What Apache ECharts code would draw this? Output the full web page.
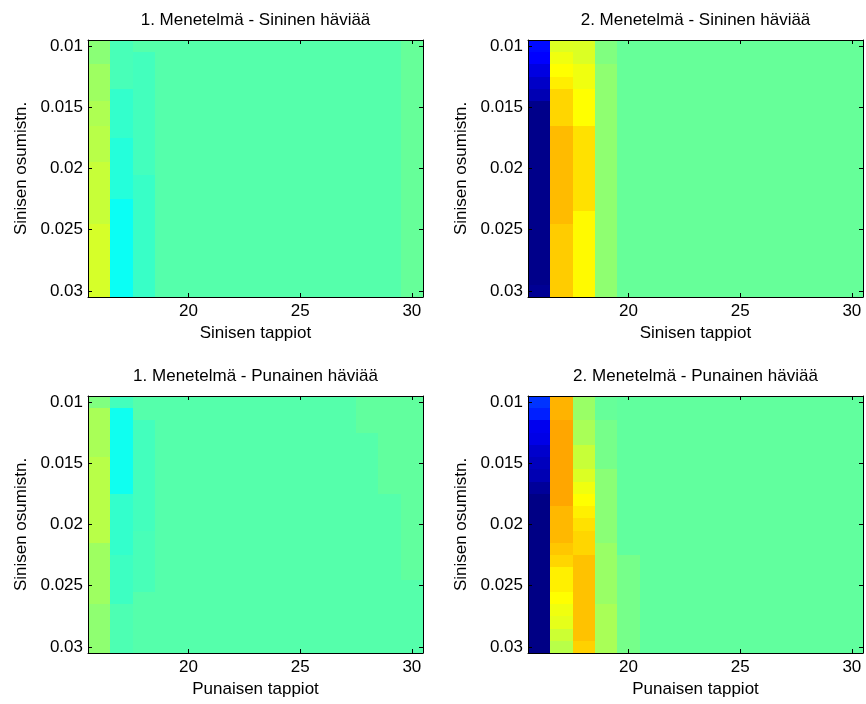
<!DOCTYPE html>
<html>
<head>
<meta charset="utf-8">
<script src="https://cdn.jsdelivr.net/npm/echarts@6/dist/echarts.min.js"></script>
<style>
  html, body { margin: 0; padding: 0; background: #fff; }
  #main { width: 866px; height: 704px; }
</style>
</head>
<body>
<div id="main"></div>
<script>
// tappiot (x) ja osumistodennäköisyys (y)
const tappiot = [16, 17, 18, 19, 20, 21, 22, 23, 24, 25, 26, 27, 28, 29, 30];
const osumis = [0.010, 0.011, 0.012, 0.013, 0.014, 0.015, 0.016, 0.017, 0.018, 0.019, 0.020,
                0.021, 0.022, 0.023, 0.024, 0.025, 0.026, 0.027, 0.028, 0.029, 0.030];
const xTicks = [20, 25, 30];
const yTicks = [0.01, 0.015, 0.02, 0.025, 0.03];

const otsikot = ['1. Menetelmä - Sininen häviää', '2. Menetelmä - Sininen häviää',
                 '1. Menetelmä - Punainen häviää', '2. Menetelmä - Punainen häviää'];
const xNimet = ['Sinisen tappiot', 'Sinisen tappiot', 'Punaisen tappiot', 'Punaisen tappiot'];
const yNimi = 'Sinisen osumistn.';

// arvot väriskaalalla 0..100 (jet), rivi = osumis, sarake = tappiot
const m1SininenHavia = [
  [51.0, 44.5, 45.8, 45.8, 45.8, 45.8, 45.8, 45.8, 45.8, 45.8, 45.8, 45.8, 45.8, 45.8, 47.5],
  [51.0, 44.5, 44.0, 45.8, 45.8, 45.8, 45.8, 45.8, 45.8, 45.8, 45.8, 45.8, 45.8, 45.8, 47.5],
  [53.0, 44.5, 44.0, 45.8, 45.8, 45.8, 45.8, 45.8, 45.8, 45.8, 45.8, 45.8, 45.8, 45.8, 47.5],
  [53.0, 44.5, 44.0, 45.8, 45.8, 45.8, 45.8, 45.8, 45.8, 45.8, 45.8, 45.8, 45.8, 45.8, 47.5],
  [53.0, 42.5, 44.0, 45.8, 45.8, 45.8, 45.8, 45.8, 45.8, 45.8, 45.8, 45.8, 45.8, 45.8, 47.5],
  [54.5, 42.5, 44.0, 45.8, 45.8, 45.8, 45.8, 45.8, 45.8, 45.8, 45.8, 45.8, 45.8, 45.8, 47.5],
  [54.5, 42.5, 44.0, 45.8, 45.8, 45.8, 45.8, 45.8, 45.8, 45.8, 45.8, 45.8, 45.8, 45.8, 47.5],
  [55.5, 42.5, 44.0, 45.8, 45.8, 45.8, 45.8, 45.8, 45.8, 45.8, 45.8, 45.8, 45.8, 45.8, 47.5],
  [55.5, 41.0, 44.0, 45.8, 45.8, 45.8, 45.8, 45.8, 45.8, 45.8, 45.8, 45.8, 45.8, 45.8, 47.5],
  [55.5, 41.0, 44.0, 45.8, 45.8, 45.8, 45.8, 45.8, 45.8, 45.8, 45.8, 45.8, 45.8, 45.8, 47.5],
  [57.0, 41.0, 44.0, 45.8, 45.8, 45.8, 45.8, 45.8, 45.8, 45.8, 45.8, 45.8, 45.8, 45.8, 47.5],
  [57.0, 41.0, 43.0, 45.8, 45.8, 45.8, 45.8, 45.8, 45.8, 45.8, 45.8, 45.8, 45.8, 45.8, 47.5],
  [57.0, 41.0, 43.0, 45.8, 45.8, 45.8, 45.8, 45.8, 45.8, 45.8, 45.8, 45.8, 45.8, 45.8, 47.5],
  [57.0, 38.5, 43.0, 45.8, 45.8, 45.8, 45.8, 45.8, 45.8, 45.8, 45.8, 45.8, 45.8, 45.8, 47.5],
  [57.0, 38.5, 43.0, 45.8, 45.8, 45.8, 45.8, 45.8, 45.8, 45.8, 45.8, 45.8, 45.8, 45.8, 47.5],
  [58.5, 38.5, 43.0, 45.8, 45.8, 45.8, 45.8, 45.8, 45.8, 45.8, 45.8, 45.8, 45.8, 45.8, 47.5],
  [58.5, 38.5, 43.0, 45.8, 45.8, 45.8, 45.8, 45.8, 45.8, 45.8, 45.8, 45.8, 45.8, 45.8, 47.5],
  [58.5, 38.5, 43.0, 45.8, 45.8, 45.8, 45.8, 45.8, 45.8, 45.8, 45.8, 45.8, 45.8, 45.8, 47.5],
  [58.5, 38.5, 43.0, 45.8, 45.8, 45.8, 45.8, 45.8, 45.8, 45.8, 45.8, 45.8, 45.8, 45.8, 47.5],
  [58.5, 38.5, 43.0, 45.8, 45.8, 45.8, 45.8, 45.8, 45.8, 45.8, 45.8, 45.8, 45.8, 45.8, 47.5],
  [58.5, 38.5, 43.0, 45.8, 45.8, 45.8, 45.8, 45.8, 45.8, 45.8, 45.8, 45.8, 45.8, 45.8, 47.5]
];

const m2SininenHavia = [
  [13.5, 59.2, 59.0, 50.0, 47.5, 47.5, 47.5, 47.5, 47.5, 47.5, 47.5, 47.5, 47.5, 47.5, 47.5],
  [12.5, 61.0, 59.0, 50.0, 47.5, 47.5, 47.5, 47.5, 47.5, 47.5, 47.5, 47.5, 47.5, 47.5, 47.5],
  [9.5, 62.5, 61.0, 51.5, 47.5, 47.5, 47.5, 47.5, 47.5, 47.5, 47.5, 47.5, 47.5, 47.5, 47.5],
  [7.0, 64.2, 61.0, 51.5, 47.5, 47.5, 47.5, 47.5, 47.5, 47.5, 47.5, 47.5, 47.5, 47.5, 47.5],
  [5.0, 66.5, 62.5, 51.5, 47.5, 47.5, 47.5, 47.5, 47.5, 47.5, 47.5, 47.5, 47.5, 47.5, 47.5],
  [1.0, 66.5, 62.5, 51.5, 47.5, 47.5, 47.5, 47.5, 47.5, 47.5, 47.5, 47.5, 47.5, 47.5, 47.5],
  [1.0, 66.5, 62.5, 51.5, 47.5, 47.5, 47.5, 47.5, 47.5, 47.5, 47.5, 47.5, 47.5, 47.5, 47.5],
  [1.0, 69.2, 65.5, 51.5, 47.5, 47.5, 47.5, 47.5, 47.5, 47.5, 47.5, 47.5, 47.5, 47.5, 47.5],
  [1.0, 69.2, 65.5, 51.5, 47.5, 47.5, 47.5, 47.5, 47.5, 47.5, 47.5, 47.5, 47.5, 47.5, 47.5],
  [1.0, 69.2, 65.5, 51.5, 47.5, 47.5, 47.5, 47.5, 47.5, 47.5, 47.5, 47.5, 47.5, 47.5, 47.5],
  [1.0, 69.2, 65.5, 51.5, 47.5, 47.5, 47.5, 47.5, 47.5, 47.5, 47.5, 47.5, 47.5, 47.5, 47.5],
  [1.0, 69.2, 65.5, 51.5, 47.5, 47.5, 47.5, 47.5, 47.5, 47.5, 47.5, 47.5, 47.5, 47.5, 47.5],
  [1.0, 69.2, 65.5, 51.5, 47.5, 47.5, 47.5, 47.5, 47.5, 47.5, 47.5, 47.5, 47.5, 47.5, 47.5],
  [1.0, 69.2, 65.5, 51.5, 47.5, 47.5, 47.5, 47.5, 47.5, 47.5, 47.5, 47.5, 47.5, 47.5, 47.5],
  [1.0, 69.2, 63.0, 51.5, 47.5, 47.5, 47.5, 47.5, 47.5, 47.5, 47.5, 47.5, 47.5, 47.5, 47.5],
  [1.0, 67.5, 63.0, 51.5, 47.5, 47.5, 47.5, 47.5, 47.5, 47.5, 47.5, 47.5, 47.5, 47.5, 47.5],
  [1.0, 67.5, 63.0, 51.5, 47.5, 47.5, 47.5, 47.5, 47.5, 47.5, 47.5, 47.5, 47.5, 47.5, 47.5],
  [1.0, 67.5, 63.0, 51.5, 47.5, 47.5, 47.5, 47.5, 47.5, 47.5, 47.5, 47.5, 47.5, 47.5, 47.5],
  [1.0, 67.5, 63.0, 51.5, 47.5, 47.5, 47.5, 47.5, 47.5, 47.5, 47.5, 47.5, 47.5, 47.5, 47.5],
  [1.0, 67.5, 63.0, 51.5, 47.5, 47.5, 47.5, 47.5, 47.5, 47.5, 47.5, 47.5, 47.5, 47.5, 47.5],
  [2.0, 67.5, 63.0, 51.5, 47.5, 47.5, 47.5, 47.5, 47.5, 47.5, 47.5, 47.5, 47.5, 47.5, 47.5]
];

const m1PunainenHavia = [
  [50.0, 44.0, 45.8, 45.8, 45.8, 45.8, 45.8, 45.8, 45.8, 45.8, 45.8, 45.8, 47.0, 47.0, 47.0],
  [54.0, 39.0, 45.8, 45.8, 45.8, 45.8, 45.8, 45.8, 45.8, 45.8, 45.8, 45.8, 47.0, 47.0, 47.0],
  [54.0, 39.0, 44.0, 45.8, 45.8, 45.8, 45.8, 45.8, 45.8, 45.8, 45.8, 45.8, 47.0, 47.0, 47.0],
  [54.0, 39.0, 44.0, 45.8, 45.8, 45.8, 45.8, 45.8, 45.8, 45.8, 45.8, 45.8, 45.8, 47.0, 47.0],
  [54.0, 39.0, 44.0, 45.8, 45.8, 45.8, 45.8, 45.8, 45.8, 45.8, 45.8, 45.8, 45.8, 47.0, 47.0],
  [55.5, 39.0, 44.0, 45.8, 45.8, 45.8, 45.8, 45.8, 45.8, 45.8, 45.8, 45.8, 45.8, 47.0, 47.0],
  [55.5, 39.0, 44.0, 45.8, 45.8, 45.8, 45.8, 45.8, 45.8, 45.8, 45.8, 45.8, 45.8, 47.0, 47.0],
  [55.5, 39.0, 44.0, 45.8, 45.8, 45.8, 45.8, 45.8, 45.8, 45.8, 45.8, 45.8, 45.8, 47.0, 47.0],
  [55.5, 42.5, 44.0, 45.8, 45.8, 45.8, 45.8, 45.8, 45.8, 45.8, 45.8, 45.8, 45.8, 45.8, 47.0],
  [55.5, 42.5, 44.0, 45.8, 45.8, 45.8, 45.8, 45.8, 45.8, 45.8, 45.8, 45.8, 45.8, 45.8, 47.0],
  [55.5, 42.5, 44.0, 45.8, 45.8, 45.8, 45.8, 45.8, 45.8, 45.8, 45.8, 45.8, 45.8, 45.8, 47.0],
  [55.5, 42.5, 44.5, 45.8, 45.8, 45.8, 45.8, 45.8, 45.8, 45.8, 45.8, 45.8, 45.8, 45.8, 47.0],
  [53.0, 42.5, 44.5, 45.8, 45.8, 45.8, 45.8, 45.8, 45.8, 45.8, 45.8, 45.8, 45.8, 45.8, 47.0],
  [53.0, 43.5, 44.5, 45.8, 45.8, 45.8, 45.8, 45.8, 45.8, 45.8, 45.8, 45.8, 45.8, 45.8, 47.0],
  [53.0, 43.5, 44.5, 45.8, 45.8, 45.8, 45.8, 45.8, 45.8, 45.8, 45.8, 45.8, 45.8, 45.8, 47.0],
  [53.0, 43.5, 44.5, 45.8, 45.8, 45.8, 45.8, 45.8, 45.8, 45.8, 45.8, 45.8, 45.8, 45.8, 45.8],
  [53.0, 43.5, 45.8, 45.8, 45.8, 45.8, 45.8, 45.8, 45.8, 45.8, 45.8, 45.8, 45.8, 45.8, 45.8],
  [51.5, 45.0, 45.8, 45.8, 45.8, 45.8, 45.8, 45.8, 45.8, 45.8, 45.8, 45.8, 45.8, 45.8, 45.8],
  [51.5, 45.0, 45.8, 45.8, 45.8, 45.8, 45.8, 45.8, 45.8, 45.8, 45.8, 45.8, 45.8, 45.8, 45.8],
  [51.5, 45.0, 45.8, 45.8, 45.8, 45.8, 45.8, 45.8, 45.8, 45.8, 45.8, 45.8, 45.8, 45.8, 45.8],
  [51.5, 45.0, 45.8, 45.8, 45.8, 45.8, 45.8, 45.8, 45.8, 45.8, 45.8, 45.8, 45.8, 45.8, 45.8]
];

const m2PunainenHavia = [
  [17.5, 70.0, 52.5, 47.5, 47.0, 47.0, 47.0, 47.0, 47.0, 47.0, 47.0, 47.0, 47.0, 47.0, 47.0],
  [15.5, 70.0, 52.5, 47.5, 47.0, 47.0, 47.0, 47.0, 47.0, 47.0, 47.0, 47.0, 47.0, 47.0, 47.0],
  [10.8, 71.3, 54.0, 49.0, 47.0, 47.0, 47.0, 47.0, 47.0, 47.0, 47.0, 47.0, 47.0, 47.0, 47.0],
  [10.0, 71.3, 54.0, 49.0, 47.0, 47.0, 47.0, 47.0, 47.0, 47.0, 47.0, 47.0, 47.0, 47.0, 47.0],
  [7.5, 71.3, 57.0, 49.0, 47.0, 47.0, 47.0, 47.0, 47.0, 47.0, 47.0, 47.0, 47.0, 47.0, 47.0],
  [6.0, 71.3, 57.0, 49.0, 47.0, 47.0, 47.0, 47.0, 47.0, 47.0, 47.0, 47.0, 47.0, 47.0, 47.0],
  [5.0, 71.3, 59.0, 51.0, 47.0, 47.0, 47.0, 47.0, 47.0, 47.0, 47.0, 47.0, 47.0, 47.0, 47.0],
  [2.5, 71.3, 61.0, 51.0, 47.0, 47.0, 47.0, 47.0, 47.0, 47.0, 47.0, 47.0, 47.0, 47.0, 47.0],
  [0.5, 71.3, 62.5, 51.0, 47.0, 47.0, 47.0, 47.0, 47.0, 47.0, 47.0, 47.0, 47.0, 47.0, 47.0],
  [0.5, 69.5, 64.0, 51.0, 47.0, 47.0, 47.0, 47.0, 47.0, 47.0, 47.0, 47.0, 47.0, 47.0, 47.0],
  [0.5, 69.5, 65.5, 51.0, 47.0, 47.0, 47.0, 47.0, 47.0, 47.0, 47.0, 47.0, 47.0, 47.0, 47.0],
  [0.5, 69.5, 66.5, 51.0, 47.0, 47.0, 47.0, 47.0, 47.0, 47.0, 47.0, 47.0, 47.0, 47.0, 47.0],
  [0.5, 68.0, 66.5, 52.5, 47.0, 47.0, 47.0, 47.0, 47.0, 47.0, 47.0, 47.0, 47.0, 47.0, 47.0],
  [0.5, 66.5, 68.5, 52.5, 49.0, 47.0, 47.0, 47.0, 47.0, 47.0, 47.0, 47.0, 47.0, 47.0, 47.0],
  [0.5, 64.0, 68.5, 52.5, 49.0, 47.0, 47.0, 47.0, 47.0, 47.0, 47.0, 47.0, 47.0, 47.0, 47.0],
  [0.5, 64.0, 68.5, 52.5, 49.0, 47.0, 47.0, 47.0, 47.0, 47.0, 47.0, 47.0, 47.0, 47.0, 47.0],
  [0.5, 62.5, 68.5, 52.5, 49.0, 47.0, 47.0, 47.0, 47.0, 47.0, 47.0, 47.0, 47.0, 47.0, 47.0],
  [0.5, 61.0, 68.5, 54.0, 49.0, 47.0, 47.0, 47.0, 47.0, 47.0, 47.0, 47.0, 47.0, 47.0, 47.0],
  [0.5, 60.0, 68.5, 54.0, 49.0, 47.0, 47.0, 47.0, 47.0, 47.0, 47.0, 47.0, 47.0, 47.0, 47.0],
  [0.5, 57.5, 68.5, 54.0, 49.0, 47.0, 47.0, 47.0, 47.0, 47.0, 47.0, 47.0, 47.0, 47.0, 47.0],
  [0.5, 55.5, 67.0, 54.0, 49.0, 47.0, 47.0, 47.0, 47.0, 47.0, 47.0, 47.0, 47.0, 47.0, 47.0]
];

const matriisit = [m1SininenHavia, m2SininenHavia, m1PunainenHavia, m2PunainenHavia];

// matlabin jet-väripaletti
const jet = ['#000080', '#0000ff', '#0080ff', '#00ffff', '#80ff80', '#ffff00', '#ff8000', '#ff0000', '#800000'];

const fontti = 'Arial, "Liberation Sans", sans-serif';
const koko = 17;

// ruudukot: vasen, ylä
const paikat = [[88, 40], [528, 40], [88, 396], [528, 396]];
const leveys = 335, korkeus = 257;

function toRows(mat) {
  let out = [];
  mat.forEach((rivi, r) => {
    rivi.forEach((v, c) => out.push([tappiot[c], osumis[r], v]));
  });
  return out;
}

// yksi ruutu imagesc-tyyliin
function renderCell(params, api) {
  let x = api.value(0), y = api.value(1);
  let p0 = api.coord([x - 0.5, y - 0.0005]);
  let p1 = api.coord([x + 0.5, y + 0.0005]);
  let x0 = Math.round(Math.min(p0[0], p1[0])), x1 = Math.round(Math.max(p0[0], p1[0]));
  let y0 = Math.round(Math.min(p0[1], p1[1])), y1 = Math.round(Math.max(p0[1], p1[1]));
  return {
    type: 'rect',
    shape: { x: x0, y: y0, width: x1 - x0, height: y1 - y0 },
    style: { fill: api.visual('color') }
  };
}

let grids = [], xAxes = [], yAxes = [], series = [], titles = [];
const viiva = { show: true, onZero: false, lineStyle: { color: '#000', width: 1 } };
const tikki = { inside: true, length: 4, lineStyle: { color: '#000' } };

paikat.forEach((p, i) => {
  grids.push({ left: p[0], top: p[1], width: leveys, height: korkeus });
  titles.push({
    text: otsikot[i],
    left: p[0] + leveys / 2,
    top: p[1] - 28,
    textAlign: 'center',
    padding: 0,
    textStyle: { fontFamily: fontti, fontSize: koko, fontWeight: 'normal', color: '#000' }
  });
  // alareuna
  xAxes.push({
    type: 'value', gridIndex: i, position: 'bottom', min: 15.5, max: 30.5, z: 5,
    axisLine: viiva,
    axisTick: Object.assign({ customValues: xTicks }, tikki),
    axisLabel: { customValues: xTicks, margin: 6, color: '#000', fontFamily: fontti, fontSize: koko },
    splitLine: { show: false },
    name: xNimet[i], nameLocation: 'middle', nameGap: 28,
    nameTextStyle: { color: '#000', fontFamily: fontti, fontSize: koko }
  });
  // yläreuna
  xAxes.push({
    type: 'value', gridIndex: i, position: 'top', min: 15.5, max: 30.5, z: 5,
    axisLine: viiva,
    axisTick: Object.assign({ customValues: xTicks }, tikki),
    axisLabel: { show: false },
    splitLine: { show: false }
  });
  yAxes.push({
    type: 'value', gridIndex: i, position: 'left', min: 0.0095, max: 0.0305, inverse: true, z: 5,
    axisLine: viiva,
    axisTick: Object.assign({ customValues: yTicks }, tikki),
    axisLabel: {
      customValues: yTicks, margin: 5, color: '#000', fontFamily: fontti, fontSize: koko,
      formatter: v => String(parseFloat(v.toFixed(4)))
    },
    splitLine: { show: false },
    name: yNimi, nameLocation: 'middle', nameGap: 58,
    nameTextStyle: { color: '#000', fontFamily: fontti, fontSize: koko }
  });
  yAxes.push({
    type: 'value', gridIndex: i, position: 'right', min: 0.0095, max: 0.0305, inverse: true, z: 5,
    axisLine: viiva,
    axisTick: Object.assign({ customValues: yTicks }, tikki),
    axisLabel: { show: false },
    splitLine: { show: false }
  });
  series.push({
    type: 'custom',
    xAxisIndex: i * 2,
    yAxisIndex: i * 2,
    renderItem: renderCell,
    encode: { x: 0, y: 1 },
    data: toRows(matriisit[i]),
    silent: true,
    z: 1
  });
});

let chart = echarts.init(document.getElementById('main'));
chart.setOption({
  backgroundColor: '#fff',
  animation: false,
  title: titles,
  grid: grids,
  xAxis: xAxes,
  yAxis: yAxes,
  visualMap: {
    show: false,
    type: 'continuous',
    min: 0,
    max: 100,
    dimension: 2,
    seriesIndex: [0, 1, 2, 3],
    inRange: { color: jet }
  },
  series: series
});
</script>
</body>
</html>
